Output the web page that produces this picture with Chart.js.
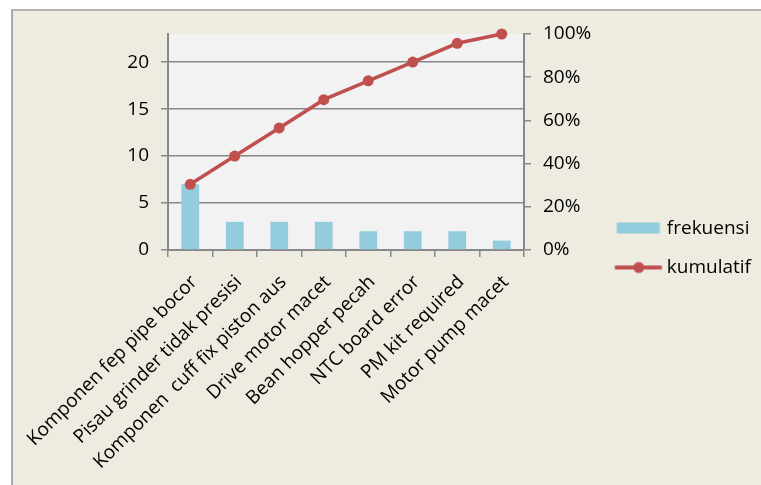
<!DOCTYPE html>
<html>
<head>
<meta charset="utf-8">
<script src="https://cdn.jsdelivr.net/npm/chart.js@4.4.1/dist/chart.umd.min.js"></script>
<style>
  html, body { margin: 0; padding: 0; background: #fff; overflow: hidden; }
  #frame {
    position: absolute; left: 11px; top: 9px; right: 0; bottom: 0;
    background: #EEECE1;
    border-left: 2px solid #a8a8a8;
    border-top: 2px solid #b4b4b4;
  }
  #pareto { position: absolute; left: 0; top: 0; }
</style>
</head>
<body>
<div id="frame"></div>
<canvas id="pareto" width="761" height="485"></canvas>
<script>
// kategori kerusakan (urut dari paling sering)
var kategori = [
    'Komponen fep pipe bocor',
    'Pisau grinder tidak presisi',
    'Komponen  cuff fix piston aus',
    'Drive motor macet',
    'Bean hopper pecah',
    'NTC board error',
    'PM kit required',
    'Motor pump macet'
];
var frekuensi = [7, 3, 3, 3, 2, 2, 2, 1];
// kumulatif dalam persen
var kumulatif = [30.4, 43.5, 56.5, 69.6, 78.3, 87.0, 95.7, 100];
var ticksKiri = [0, 5, 10, 15, 20];
var ticksKanan = [0, 20, 40, 60, 80, 100];

var warnaBar = '#93CDDD';
var warnaLine = '#C0504D';
var FONT = "'Open Sans', sans-serif";
var FSIZE = 19;

// legend icons, bar box and line with marker
function makeIcon(type) {
    var c = document.createElement('canvas');
    c.width = 50;
    c.height = 14;
    var ctx = c.getContext('2d');
    if (type == 'bar') {
        ctx.fillStyle = warnaBar;
        ctx.fillRect(3.5, 1, 43, 11);
    } else {
        ctx.strokeStyle = warnaLine;
        ctx.lineWidth = 4;
        ctx.beginPath();
        ctx.moveTo(1.5, 7);
        ctx.lineTo(48.5, 7);
        ctx.stroke();
        ctx.fillStyle = warnaLine;
        ctx.beginPath();
        ctx.arc(25.5, 7, 5.5, 0, Math.PI * 2);
        ctx.fill();
    }
    return c;
}

var plotBg = {
    id: 'plotBg',
    beforeDraw: function (chart) {
        var a = chart.chartArea;
        var ctx = chart.ctx;
        ctx.save();
        ctx.fillStyle = '#F2F2F2';
        ctx.fillRect(a.left, a.top, a.right - a.left, a.bottom - a.top);
        ctx.restore();
    }
};

var PLOT_RIGHT = 524;

function buatChart() {
    Chart.defaults.font.family = FONT;
    Chart.defaults.font.size = FSIZE;
    Chart.defaults.color = '#000';

    new Chart(document.getElementById('pareto'), {
        type: 'bar',
        data: {
            labels: kategori,
            datasets: [
                {
                    label: 'frekuensi',
                    data: frekuensi,
                    backgroundColor: warnaBar,
                    barPercentage: 0.4,
                    categoryPercentage: 1,
                    yAxisID: 'y',
                    order: 2
                },
                {
                    type: 'line',
                    label: 'kumulatif',
                    data: kumulatif,
                    borderColor: warnaLine,
                    backgroundColor: warnaLine,
                    borderWidth: 3.5,
                    pointRadius: 5.5,
                    pointHoverRadius: 5.5,
                    pointBackgroundColor: warnaLine,
                    pointBorderWidth: 0,
                    tension: 0,
                    clip: false,
                    yAxisID: 'y1',
                    order: 1
                }
            ]
        },
        options: {
            responsive: false,
            devicePixelRatio: 1,
            animation: false,
            // top 11 + empty title 23 => plot starts at y=34, legend stays centred like the original
            layout: { padding: { left: 0, right: 0, top: 11, bottom: 0 } },
            plugins: {
                tooltip: { enabled: false },
                title: {
                    display: true,
                    text: '',
                    padding: 0,
                    font: { size: 23, lineHeight: 1 }
                },
                legend: {
                    position: 'right',
                    maxWidth: 175,
                    labels: {
                        usePointStyle: true,
                        pointStyleWidth: 38,
                        padding: 20,
                        font: { size: FSIZE },
                        generateLabels: function (chart) {
                            return chart.data.datasets.map(function (ds, i) {
                                return {
                                    text: ds.label,
                                    datasetIndex: i,
                                    pointStyle: makeIcon(i == 0 ? 'bar' : 'line'),
                                    fillStyle: 'transparent',
                                    strokeStyle: 'transparent',
                                    lineWidth: 0,
                                    fontColor: '#000',
                                    hidden: false
                                };
                            });
                        }
                    }
                }
            },
            scales: {
                x: {
                    offset: true,
                    grid: {
                        offset: true,
                        drawOnChartArea: false,
                        drawTicks: true,
                        tickLength: 7,
                        color: '#888',
                        lineWidth: 1.5
                    },
                    border: { color: '#888', width: 2 },
                    ticks: {
                        autoSkip: false,
                        minRotation: 45,
                        maxRotation: 45,
                        padding: 14,
                        labelOffset: 4,
                        font: { size: FSIZE }
                    },
                    afterFit: function (s) { s.height = 485 - 250; }
                },
                y: {
                    position: 'left',
                    min: 0,
                    max: 23,
                    afterBuildTicks: function (s) {
                        s.ticks = ticksKiri.map(function (v) { return { value: v }; });
                    },
                    grid: { color: '#888', lineWidth: 1.5, tickLength: 7 },
                    border: { color: '#888', width: 2 },
                    ticks: { padding: 12, font: { size: FSIZE } },
                    afterFit: function (s) { s.width = 168; }
                },
                y1: {
                    position: 'right',
                    min: 0,
                    max: 100,
                    afterBuildTicks: function (s) {
                        s.ticks = ticksKanan.map(function (v) { return { value: v }; });
                    },
                    grid: { drawOnChartArea: false, color: '#888', lineWidth: 1.5, tickLength: 7 },
                    border: { color: '#888', width: 2 },
                    ticks: {
                        padding: 12,
                        font: { size: FSIZE },
                        callback: function (v) { return v + '%'; }
                    },
                    afterFit: function (s) {
                        var lw = s.chart.legend ? s.chart.legend.width : 160;
                        s.width = 761 - lw - PLOT_RIGHT;
                    }
                }
            }
        },
        plugins: [plotBg]
    });
}

document.fonts.load(FSIZE + "px 'Open Sans'").then(buatChart, buatChart);
</script>
</body>
</html>
